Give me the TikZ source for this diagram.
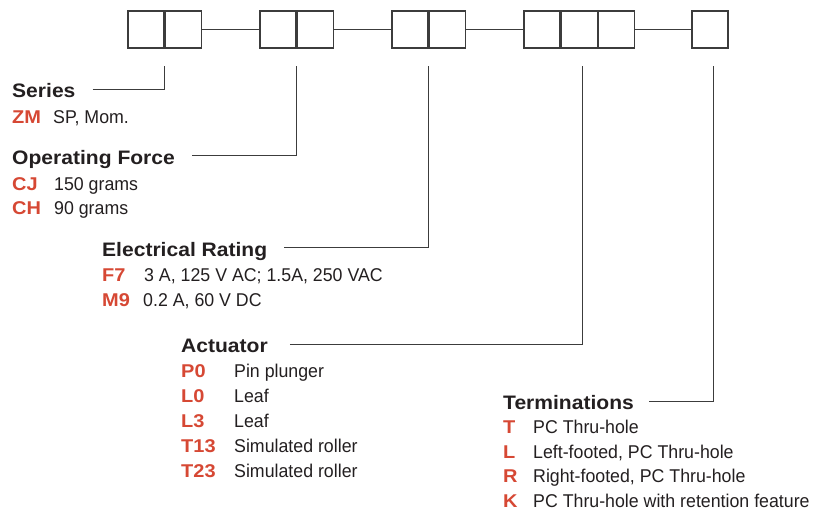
\documentclass[tikz,border=0pt]{standalone}
\usepackage{fontspec}
\setmainfont{Liberation Sans}
\newfontfamily\widesans[FakeStretch=1.08]{Liberation Sans}
\newfontfamily\narrowsans[FakeStretch=0.96]{Liberation Sans}
\usetikzlibrary{positioning}
\definecolor{codered}{RGB}{214,72,52}
\definecolor{ink}{RGB}{35,31,32}
\definecolor{wire}{RGB}{60,60,60}
\tikzset{
  cell/.style={draw=wire,line width=1.3pt,minimum width=36pt,minimum height=37pt,inner sep=0pt},
  link/.style={draw=wire,line width=1pt},
  leader/.style={draw=wire,line width=1pt},
  head/.style={anchor=base west,inner sep=0pt,text=ink,font=\widesans\fontsize{19.5}{24}\selectfont\bfseries},
  code/.style={anchor=base west,inner sep=0pt,text=codered,font=\widesans\fontsize{18.5}{23}\selectfont\bfseries},
  desc/.style={anchor=base west,inner sep=0pt,text=ink,font=\narrowsans\fontsize{18.5}{22}\selectfont}
}
\begin{document}
\begin{tikzpicture}[x=1pt,y=-1pt]
\useasboundingbox (0,0) rectangle (816,511);
% part number boxes
\node[cell] (a1) at (146,29.5) {};
\node[cell,right=0pt of a1] (a2) {};
\node[cell] (b1) at (278,29.5) {};
\node[cell,right=0pt of b1] (b2) {};
\node[cell] (c1) at (410,29.5) {};
\node[cell,right=0pt of c1] (c2) {};
\node[cell] (d1) at (542,29.5) {};
\node[cell,right=0pt of d1] (d2) {};
\node[cell,right=0pt of d2] (d3) {};
\node[cell] (e1) at (710,29.5) {};
\draw[link] (a2.east)--(b1.west);
\draw[link] (b2.east)--(c1.west);
\draw[link] (c2.east)--(d1.west);
\draw[link] (d3.east)--(e1.west);
% series
\node[head] (ser) at (12,97) {Series};
\node[code] (zm) at (12,123) {ZM};
\node[desc] (zmt) at (53,123) {SP, Mom.};
% operating force
\node[head] (opf) at (12,164) {Operating Force};
\node[code] (cj) at (12,190) {CJ};
\node[desc] (cjt) at (54,190) {150 grams};
\node[code] (ch) at (12,214) {CH};
\node[desc] (cht) at (54,214) {90 grams};
% electrical rating
\node[head] (elr) at (102,256) {Electrical Rating};
\node[code] (f7) at (102,281) {F7};
\node[desc] (f7t) at (144,281) {3 A, 125 V AC; 1.5A, 250 VAC};
\node[code] (m9) at (102,306) {M9};
\node[desc] (m9t) at (143,306) {0.2 A, 60 V DC};
% actuator
\node[head] (act) at (181,352) {Actuator};
\node[code] (p0) at (181,377) {P0};
\node[desc] (p0t) at (234,377) {Pin plunger};
\node[code] (l0) at (181,402) {L0};
\node[desc] (l0t) at (234,402) {Leaf};
\node[code] (l3) at (181,427) {L3};
\node[desc] (l3t) at (234,427) {Leaf};
\node[code] (t13) at (181,452) {T13};
\node[desc] (t13t) at (234,452) {Simulated roller};
\node[code] (t23) at (181,477) {T23};
\node[desc] (t23t) at (234,477) {Simulated roller};
% terminations
\node[head] (ter) at (503,409) {Terminations};
\node[code] (tt) at (503,433) {T};
\node[desc] (ttt) at (533,433) {PC Thru-hole};
\node[code] (tl) at (503,458) {L};
\node[desc] (tlt) at (533,458) {Left-footed, PC Thru-hole};
\node[code] (tr) at (503,482) {R};
\node[desc] (trt) at (533,482) {Right-footed, PC Thru-hole};
\node[code] (tk) at (503,507) {K};
\node[desc] (tkt) at (533,507) {PC Thru-hole with retention feature};
% leaders
\draw[leader] ([xshift=17pt,yshift=8pt]ser.base east) -| ([yshift=-17pt]a1.south east);
\draw[leader] ([xshift=17pt,yshift=9pt]opf.base east) -| ([yshift=-17pt]b1.south east);
\draw[leader] ([xshift=17pt,yshift=9pt]elr.base east) -| ([yshift=-17pt]c1.south east);
\draw[leader] ([xshift=22pt,yshift=8pt]act.base east) -| ([yshift=-17pt,xshift=3pt]d2.south);
\draw[leader] ([xshift=15pt,yshift=8pt]ter.base east) -| ([yshift=-17pt,xshift=3pt]e1.south);
\end{tikzpicture}
\end{document}
